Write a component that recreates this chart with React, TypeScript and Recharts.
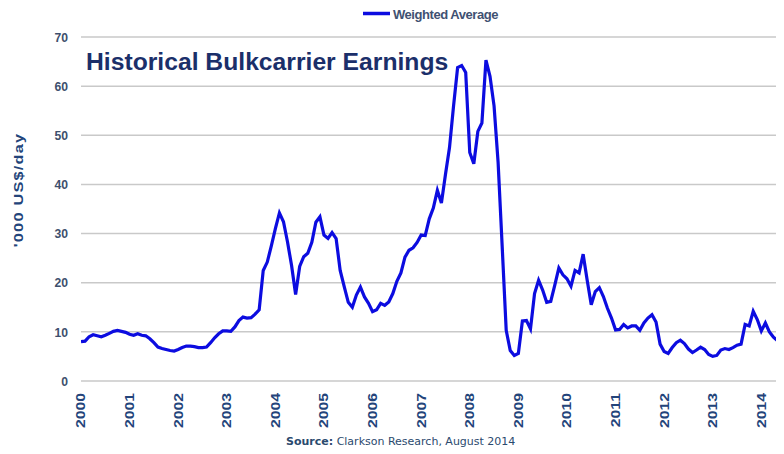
import React from 'react';
import { LineChart, Line, XAxis, YAxis, CartesianGrid } from 'recharts';

// ---- data (monthly, Jan 2000 onwards, '000 US$/day) ----
const years = ['2000', '2001', '2002', '2003', '2004', '2005', '2006', '2007', '2008', '2009', '2010', '2011', '2012', '2013', '2014'];
const yTicks = [0, 10, 20, 30, 40, 50, 60, 70];
const seriesName = 'Weighted Average';
const chartTitle = 'Historical Bulkcarrier Earnings';
const yAxisTitle = "'000 US$/day";
const sourceLabel = 'Source:';
const sourceText = 'Clarkson Research, August 2014';

const earnings = [
  8.0, 8.1, 9.0, 9.4, 9.2, 9.0, 9.3, 9.7, 10.1, 10.3, 10.1, 9.9,
  9.5, 9.3, 9.6, 9.3, 9.2, 8.6, 7.8, 6.9, 6.6, 6.4, 6.2, 6.1,
  6.4, 6.8, 7.1, 7.1, 7.0, 6.8, 6.8, 6.9, 7.8, 8.8, 9.6, 10.2,
  10.2, 10.1, 11.0, 12.3, 13.0, 12.8, 12.9, 13.6, 14.5, 22.5, 24.2, 27.5,
  31.0, 34.2, 32.4, 28.3, 23.5, 17.6, 23.3, 25.3, 26.0, 28.2, 32.3, 33.4,
  29.7, 29.0, 30.2, 29.0, 22.5, 19.2, 16.0, 15.0, 17.5, 19.1, 17.1, 15.8,
  14.1, 14.5, 15.8, 15.4, 16.1, 17.8, 20.3, 22.0, 25.2, 26.6, 27.1, 28.2,
  29.7, 29.6, 33.0, 35.2, 38.8, 36.2, 42.0, 47.5, 56.0, 63.8, 64.2, 62.8,
  46.5, 44.2, 50.8, 52.5, 65.3, 62.0, 56.0, 44.5, 27.5, 10.3, 6.2, 5.2,
  5.6, 12.2, 12.3, 10.6, 17.8, 20.5, 18.5, 16.0, 16.2, 19.5, 23.0, 21.6,
  20.8, 19.3, 22.5, 22.0, 25.8, 20.5, 15.5, 18.2, 19.0, 17.2, 14.8, 12.8,
  10.4, 10.5, 11.5, 10.8, 11.2, 11.2, 10.3, 11.8, 12.8, 13.5, 12.0, 7.5,
  6.0, 5.6, 6.8, 7.8, 8.3, 7.6, 6.5, 5.8, 6.3, 6.9, 6.4, 5.4,
  5.0, 5.2, 6.3, 6.6, 6.4, 6.8, 7.3, 7.5, 11.5, 11.2, 14.2, 12.5,
  10.2, 11.8, 10.0, 8.9, 8.2, 7.7, 7.6,
];

const data = earnings.map((v, i) => ({ m: i, v }));
const xTicks = years.map((_, i) => i * 12);

const W = 776;
const H = 446;
const LINE_COLOR = '#0c0ce0';
const NAVY = '#23447a';
const SANS = "'Liberation Sans', Arial, sans-serif";

const XTick = (props: any) => {
  const { x, y, payload } = props;
  const label = years[Math.round(payload.value / 12)];
  return (
    <g transform={`translate(${x},${y + 4}) rotate(-90) scale(1.26,1)`}>
      <text x={0} y={0} dy="0.35em" textAnchor="end" fontFamily={SANS} fontWeight="bold" fontSize={12.5} fill={NAVY}>
        {label}
      </text>
    </g>
  );
};

const YTick = (props: any) => {
  const { x, y, payload } = props;
  return (
    <g transform={`translate(${x - 5},${y}) scale(0.9,1)`}>
      <text x={0} y={0} dy="0.35em" textAnchor="end" fontFamily={SANS} fontWeight="bold" fontSize={13.5} fill="#3d4f6d">
        {payload.value}
      </text>
    </g>
  );
};

export default function App() {
  return (
    <div style={{ position: 'relative', width: W, height: H }}>
      <LineChart width={W} height={H} data={data} margin={{ top: 29, right: 0, bottom: 0, left: 0 }}>
        <CartesianGrid horizontal vertical={false} stroke="#c9c9c9" strokeWidth={1.5} />
        <XAxis
          type="number"
          dataKey="m"
          domain={[0, 173.6]}
          ticks={xTicks}
          interval={0}
          allowDataOverflow
          axisLine={false}
          tickLine={false}
          height={73}
          tick={<XTick />}
        />
        <YAxis
          type="number"
          domain={[0, 70]}
          ticks={yTicks}
          interval={0}
          axisLine={false}
          tickLine={false}
          width={73}
          tick={<YTick />}
        />
        <Line
          type="linear"
          dataKey="v"
          name={seriesName}
          stroke={LINE_COLOR}
          strokeWidth={3.2}
          dot={false}
          isAnimationActive={false}
        />
      </LineChart>
      <svg width={W} height={H} style={{ position: 'absolute', left: 0, top: 0, pointerEvents: 'none' }}>
        {/* legend */}
        <line x1={355} y1={5.5} x2={382} y2={5.5} stroke={LINE_COLOR} strokeWidth={3.5} />
        <text x={385} y={10.5} fontFamily={SANS} fontWeight="bold" fontSize={13} letterSpacing={-0.45} fill="#3f5172">
          {seriesName}
        </text>
        {/* title */}
        <text x={78} y={62} fontFamily={SANS} fontWeight="bold" fontSize={24.7} fill="#1b2f6a">
          {chartTitle}
        </text>
        {/* y axis title */}
        <g transform="translate(10.3,182) rotate(-90) scale(1.25,1)">
          <text x={0} y={0} dy="0.35em" textAnchor="middle" fontFamily={SANS} fontWeight="bold" fontSize={13} letterSpacing={1} fill={NAVY}>
            {yAxisTitle}
          </text>
        </g>
        {/* source */}
        <text x={278} y={437} fontFamily="'DejaVu Sans', Verdana, sans-serif" fontSize={11} fill="#2b4a6e">
          <tspan fontWeight="bold">{sourceLabel}</tspan>
          <tspan> {sourceText}</tspan>
        </text>
      </svg>
    </div>
  );
}
